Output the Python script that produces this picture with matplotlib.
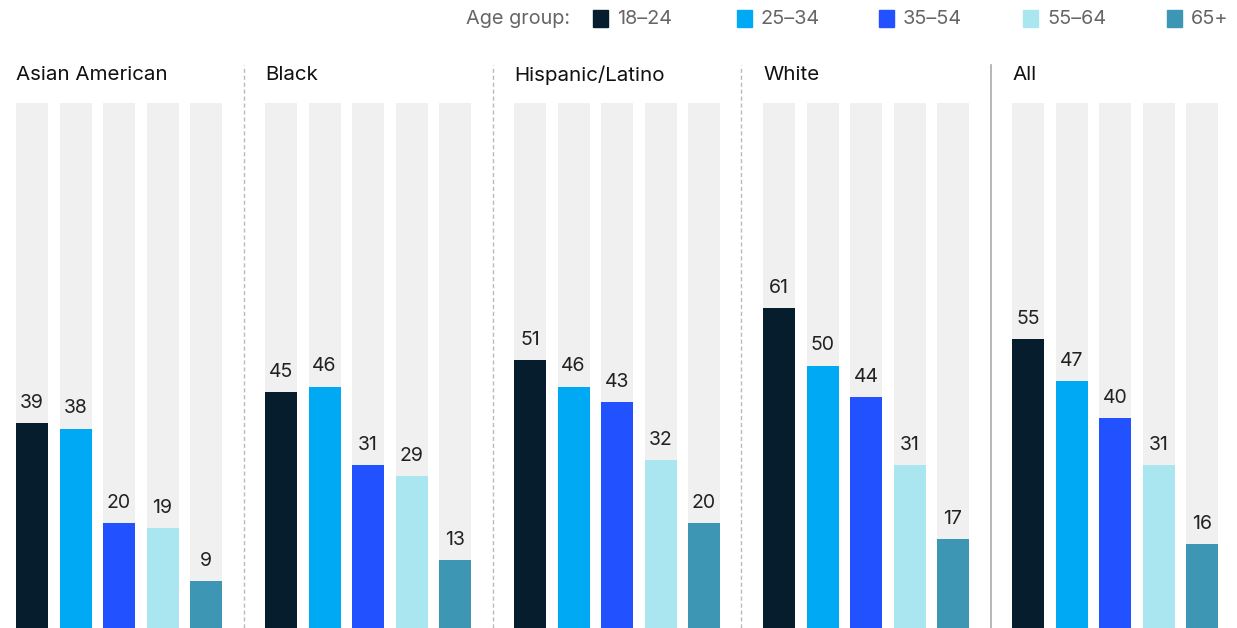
import numpy as np
import matplotlib.pyplot as plt
from matplotlib.patches import Rectangle

plt.rcParams['font.family'] = ['Inter', 'DejaVu Sans']

groups = ['Asian American', 'Black', 'Hispanic/Latino', 'White', 'All']
ages = ['18–24', '25–34', '35–54', '55–64', '65+']
values = [
    [39, 38, 20, 19, 9],
    [45, 46, 31, 29, 13],
    [51, 46, 43, 32, 20],
    [61, 50, 44, 31, 17],
    [55, 47, 40, 31, 16],
]
colors = ['#061D2D', '#00A9F4', '#2251FF', '#AAE6F0', '#3C96B4']

W, H = 1237, 628
fig = plt.figure(figsize=(W / 100, H / 100), dpi=100)

# one axes, x in units of bar step (43.5 px)
step = 43.5
gstep = 249 / step
bw = 32 / step
x0 = 32 / step
ax = fig.add_axes([0, 0, 1, 525 / H])
ax.set_xlim(0, W / step)
ax.set_ylim(0, 100)
ax.axis('off')

for g, name in enumerate(groups):
    xs = x0 + g * gstep + np.arange(len(ages))
    ax.bar(xs, 100, width=bw, color='#F0F0F0', zorder=1)
    ax.bar(xs, values[g], width=bw, color=colors, zorder=2)
    for x, v in zip(xs, values[g]):
        ax.annotate(str(v), (x, v), xytext=(0, 8), textcoords='offset points',
                    ha='center', va='bottom', fontsize=14, color='#222222')
    ax.text(xs[0] - bw / 2, 105.3, name, ha='left', va='center', fontsize=14.8,
            color='#111111', clip_on=False)
    if g > 0:
        xsep = (x0 + (g - 1) * gstep + len(ages) - 1 + bw / 2 + xs[0] - bw / 2) / 2
        last = g == len(groups) - 1
        ax.plot([xsep, xsep], [0, 107.3], color='#AAAAAA' if last else '#BBBBBB',
                lw=1.2 if last else 1, ls='-' if last else (0, (3, 2)),
                clip_on=False, zorder=0)

# legend
fig.text(570 / W, 1 - 19 / H, 'Age group:', ha='right', va='center',
         fontsize=14.3, color='#666666')
sq_x = [593, 737, 879, 1023, 1167]
for sx, c, lab in zip(sq_x, colors, ages):
    fig.patches.append(Rectangle((sx / W, 1 - 27 / H), 15 / W, 17 / H,
                                 transform=fig.transFigure, color=c))
    fig.text((sx + 24) / W, 1 - 19 / H, lab, ha='left', va='center',
             fontsize=14.3, color='#666666')

fig.savefig('out.png', dpi=100)
